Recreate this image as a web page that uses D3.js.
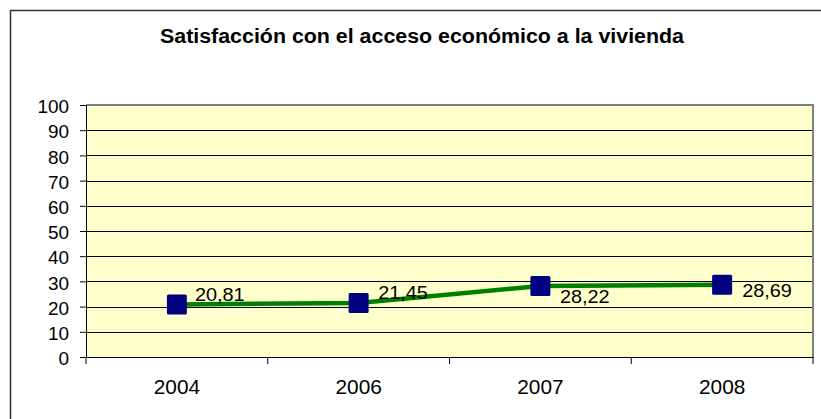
<!DOCTYPE html>
<html><head><meta charset="utf-8">
<script src="https://cdn.jsdelivr.net/npm/d3@7"></script>
<style>body{margin:0;background:#fff}svg{display:block;font-family:"Liberation Sans",Arial,sans-serif}</style>
</head><body><svg id="c" width="821" height="419"></svg>
<script>
const title = "Satisfacción con el acceso económico a la vivienda";
const categories = ["2004","2006","2007","2008"];
const values = [20.81, 21.45, 28.22, 28.69];
const labels = ["20,81","21,45","28,22","28,69"];
const yTicks = [0,10,20,30,40,50,60,70,80,90,100];

const svg = d3.select("#c");
const L=86, R=813, T=105, B=357;
const SX = 1.07;
const x = d3.scaleBand().domain(categories).range([L,R]);
const y = d3.scaleLinear().domain([0,100]).range([B,T]);

// outer frame
svg.append("rect").attr("x",10.5).attr("y",10.5).attr("width",900).attr("height",500)
  .attr("fill","#fff").attr("stroke","#333").attr("stroke-width",1.5);

// title
svg.append("text").attr("x",422).attr("y",43).attr("text-anchor","middle")
  .attr("font-weight","bold").attr("font-size",20).attr("fill","#000")
  .attr("textLength",524).attr("lengthAdjust","spacingAndGlyphs")
  .text(title);

// plot bg
svg.append("rect").attr("x",L).attr("y",T).attr("width",R-L).attr("height",B-T).attr("fill","#FFFFCC");

// gridlines
svg.append("g").selectAll("line").data(yTicks.filter(d=>d>0&&d<100)).join("line")
  .attr("x1",L).attr("x2",R).attr("y1",d=>Math.round(y(d))+0.5).attr("y2",d=>Math.round(y(d))+0.5)
  .attr("stroke","#000").attr("stroke-width",1);

// plot border top/right gray
svg.append("path").attr("d",`M${L},${T} H${R} V${B}`).attr("fill","none").attr("stroke","#808080").attr("stroke-width",2);

// y axis
const ya = svg.append("g").attr("transform",`translate(${L},0)`)
  .call(d3.axisLeft(y).tickValues(yTicks).tickSize(6).tickPadding(11).tickFormat(d3.format("d")));
ya.select(".domain").attr("stroke","#000");
ya.selectAll(".tick line").attr("stroke","#000");
ya.selectAll("text").attr("font-size",17.7).attr("fill","#000").attr("font-family","Liberation Sans, Arial, sans-serif")
  .attr("transform",`scale(${SX},1)`).attr("x",-17/SX).attr("y",2);

// x axis
const xa = svg.append("g").attr("transform",`translate(0,${B})`)
  .call(d3.axisBottom(x).tickSize(0).tickPadding(23));
xa.select(".domain").attr("stroke","#000");
xa.selectAll("text").attr("font-size",19.5).attr("fill","#000").attr("font-family","Liberation Sans, Arial, sans-serif")
  .attr("transform",`scale(${SX},1)`);
const bounds = categories.map(c=>x(c)).concat([R]);
svg.append("g").selectAll("line").data(bounds).join("line")
  .attr("x1",d=>d).attr("x2",d=>d).attr("y1",B).attr("y2",B+7).attr("stroke","#000");

// line
const cx = d=>x(d)+x.bandwidth()/2;
svg.append("path").datum(values.map((v,i)=>[cx(categories[i]),y(v)]))
  .attr("d",d3.line()).attr("fill","none").attr("stroke","#008000").attr("stroke-width",4.5);

// markers
svg.append("g").selectAll("rect").data(values).join("rect")
  .attr("x",(d,i)=>cx(categories[i])-10).attr("y",d=>y(d)-10).attr("width",20).attr("height",20)
  .attr("rx",1.5).attr("fill","#000080");

// data labels
const dy = [-4,-4,17.5,12.5];
const dx = [18,19.5,19.5,20];
svg.append("g").selectAll("text").data(values).join("text")
  .attr("transform",(d,i)=>`translate(${cx(categories[i])+dx[i]},${y(d)+dy[i]}) scale(${SX},1)`)
  .attr("font-size",18.6).attr("fill","#000").text((d,i)=>labels[i]);
</script></body></html>
